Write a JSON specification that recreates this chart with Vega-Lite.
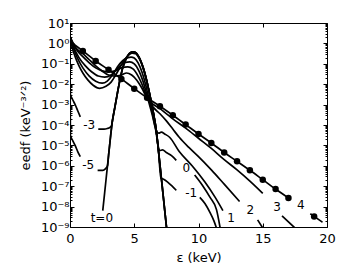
{
 "$schema": "https://vega.github.io/schema/vega-lite/v6.json",
 "width": 257, "height": 204,
 "autosize": "none",
 "padding": {"left": 70, "top": 23, "right": 23, "bottom": 53},
 "background": "white",
 "config": {"view": {"stroke": "black", "strokeWidth": 1}, "font": "DejaVu Sans"},
 "datasets": {
  "curves": [
   {"s":"g","x":2.55,"y":6.31e-9},{"s":"g","x":2.7,"y":5.01e-8},{"s":"g","x":2.85,"y":3.98e-7},{"s":"g","x":3.0,"y":3.16e-6},{"s":"g","x":3.15,"y":2.51e-5},{"s":"g","x":3.3,"y":1.585e-4},{"s":"g","x":3.5,"y":7.94e-4},{"s":"g","x":3.7,"y":3.98e-3},{"s":"g","x":3.9,"y":0.0178},{"s":"g","x":4.1,"y":0.0631},{"s":"g","x":4.3,"y":0.141},{"s":"g","x":4.5,"y":0.251},{"s":"g","x":4.7,"y":0.347},{"s":"g","x":4.9,"y":0.389},{"s":"g","x":5.1,"y":0.355},{"s":"g","x":5.3,"y":0.251},{"s":"g","x":5.5,"y":0.141},{"s":"g","x":5.7,"y":0.0631},{"s":"g","x":5.9,"y":0.0224},{"s":"g","x":6.1,"y":6.31e-3},{"s":"g","x":6.3,"y":1.585e-3},{"s":"g","x":6.5,"y":3.55e-4},{"s":"g","x":6.7,"y":6.31e-5},{"s":"g","x":6.9,"y":4.47e-6},{"s":"g","x":7.1,"y":2.82e-7},{"s":"g","x":7.3,"y":1.78e-8},{"s":"g","x":7.5,"y":1.12e-9},{"s":"g","x":7.6,"y":3.16e-10},

   {"s":"m5a","x":0,"y":2.51},{"s":"m5a","x":0.01,"y":0.01},{"s":"m5a","x":0.03,"y":3.16e-5},{"s":"m5a","x":0.2,"y":1.78e-5},{"s":"m5a","x":0.4,"y":1e-5},{"s":"m5a","x":0.6,"y":5.01e-6},{"s":"m5a","x":0.8,"y":2.82e-6},
   {"s":"m5b","x":2.15,"y":6.03e-7},{"s":"m5b","x":2.55,"y":6.03e-7},{"s":"m5b","x":2.75,"y":7.08e-7},{"s":"m5b","x":2.92,"y":1e-6},{"s":"m5b","x":3.0,"y":3.16e-6},{"s":"m5b","x":3.15,"y":2.51e-5},{"s":"m5b","x":3.3,"y":1.585e-4},{"s":"m5b","x":3.5,"y":7.94e-4},{"s":"m5b","x":3.7,"y":3.98e-3},{"s":"m5b","x":3.9,"y":0.0178},{"s":"m5b","x":4.1,"y":0.0631},{"s":"m5b","x":4.3,"y":0.141},{"s":"m5b","x":4.5,"y":0.251},{"s":"m5b","x":4.7,"y":0.347},{"s":"m5b","x":4.9,"y":0.389},{"s":"m5b","x":5.1,"y":0.355},{"s":"m5b","x":5.3,"y":0.251},{"s":"m5b","x":5.5,"y":0.141},{"s":"m5b","x":5.7,"y":0.0631},{"s":"m5b","x":5.9,"y":0.0224},{"s":"m5b","x":6.1,"y":6.31e-3},{"s":"m5b","x":6.3,"y":1.585e-3},{"s":"m5b","x":6.5,"y":3.55e-4},{"s":"m5b","x":6.7,"y":6.31e-5},{"s":"m5b","x":6.9,"y":4.47e-6},{"s":"m5b","x":7.1,"y":2.82e-7},{"s":"m5b","x":7.3,"y":1.78e-8},{"s":"m5b","x":7.5,"y":1.12e-9},{"s":"m5b","x":7.6,"y":3.16e-10},

   {"s":"m3a","x":0,"y":2.51},{"s":"m3a","x":0.01,"y":0.0316},{"s":"m3a","x":0.03,"y":3.16e-3},{"s":"m3a","x":0.2,"y":1.78e-3},{"s":"m3a","x":0.4,"y":1e-3},{"s":"m3a","x":0.6,"y":5.01e-4},{"s":"m3a","x":0.8,"y":2.51e-4},
   {"s":"m3b","x":2.2,"y":6.31e-5},{"s":"m3b","x":2.65,"y":6.31e-5},{"s":"m3b","x":2.9,"y":6.76e-5},{"s":"m3b","x":3.1,"y":7.59e-5},{"s":"m3b","x":3.22,"y":8.91e-5},{"s":"m3b","x":3.3,"y":1.585e-4},{"s":"m3b","x":3.5,"y":7.94e-4},{"s":"m3b","x":3.7,"y":3.98e-3},{"s":"m3b","x":3.9,"y":0.0178},{"s":"m3b","x":4.1,"y":0.0631},{"s":"m3b","x":4.3,"y":0.141},{"s":"m3b","x":4.5,"y":0.251},{"s":"m3b","x":4.7,"y":0.347},{"s":"m3b","x":4.9,"y":0.389},{"s":"m3b","x":5.1,"y":0.355},{"s":"m3b","x":5.3,"y":0.251},{"s":"m3b","x":5.5,"y":0.141},{"s":"m3b","x":5.7,"y":0.0631},{"s":"m3b","x":5.9,"y":0.0224},{"s":"m3b","x":6.1,"y":6.31e-3},{"s":"m3b","x":6.3,"y":1.585e-3},{"s":"m3b","x":6.5,"y":3.55e-4},{"s":"m3b","x":6.7,"y":6.31e-5},{"s":"m3b","x":6.9,"y":4.47e-6},{"s":"m3b","x":7.1,"y":2.82e-7},{"s":"m3b","x":7.3,"y":1.78e-8},{"s":"m3b","x":7.5,"y":1.12e-9},{"s":"m3b","x":7.6,"y":3.16e-10},

   {"s":"m1a","x":0,"y":2.24},{"s":"m1a","x":0.15,"y":0.708},{"s":"m1a","x":0.4,"y":0.224},{"s":"m1a","x":0.7,"y":0.0794},{"s":"m1a","x":1.0,"y":0.0355},{"s":"m1a","x":1.4,"y":0.0158},{"s":"m1a","x":1.8,"y":8.91e-3},{"s":"m1a","x":2.3,"y":6.31e-3},{"s":"m1a","x":2.8,"y":7.94e-3},{"s":"m1a","x":3.2,"y":0.0126},{"s":"m1a","x":3.6,"y":0.0316},{"s":"m1a","x":4.0,"y":0.0891},{"s":"m1a","x":4.3,"y":0.178},{"s":"m1a","x":4.6,"y":0.282},{"s":"m1a","x":4.85,"y":0.331},{"s":"m1a","x":5.1,"y":0.316},{"s":"m1a","x":5.35,"y":0.2},{"s":"m1a","x":5.6,"y":0.0891},{"s":"m1a","x":5.85,"y":0.0282},{"s":"m1a","x":6.1,"y":6.31e-3},{"s":"m1a","x":6.3,"y":1.585e-3},{"s":"m1a","x":6.5,"y":3.55e-4},{"s":"m1a","x":6.7,"y":6.31e-5},{"s":"m1a","x":6.9,"y":4.47e-6},{"s":"m1a","x":7.0,"y":6.31e-7},{"s":"m1a","x":7.08,"y":2.51e-7},{"s":"m1a","x":7.25,"y":2.24e-7},{"s":"m1a","x":7.6,"y":1.585e-7},{"s":"m1a","x":7.95,"y":1e-7},{"s":"m1a","x":8.27,"y":6.31e-8},
   {"s":"m1b","x":10.1,"y":2.82e-8},{"s":"m1b","x":10.5,"y":1.41e-8},{"s":"m1b","x":10.9,"y":5.01e-9},{"s":"m1b","x":11.2,"y":2.0e-9},{"s":"m1b","x":11.45,"y":7.08e-10},

   {"s":"p0a","x":0,"y":2.24},{"s":"p0a","x":0.25,"y":0.631},{"s":"p0a","x":0.6,"y":0.178},{"s":"p0a","x":1.0,"y":0.0631},{"s":"p0a","x":1.5,"y":0.0251},{"s":"p0a","x":2.0,"y":0.0141},{"s":"p0a","x":2.5,"y":0.0112},{"s":"p0a","x":2.9,"y":0.0141},{"s":"p0a","x":3.3,"y":0.0282},{"s":"p0a","x":3.7,"y":0.0708},{"s":"p0a","x":4.1,"y":0.141},{"s":"p0a","x":4.5,"y":0.2},{"s":"p0a","x":4.75,"y":0.214},{"s":"p0a","x":5.0,"y":0.191},{"s":"p0a","x":5.3,"y":0.112},{"s":"p0a","x":5.6,"y":0.0398},{"s":"p0a","x":5.9,"y":8.91e-3},{"s":"p0a","x":6.1,"y":2.51e-3},{"s":"p0a","x":6.3,"y":7.94e-4},{"s":"p0a","x":6.5,"y":2.0e-4},{"s":"p0a","x":6.7,"y":4.47e-5},{"s":"p0a","x":6.85,"y":1e-5},{"s":"p0a","x":6.98,"y":5.62e-6},{"s":"p0a","x":7.2,"y":6.03e-6},{"s":"p0a","x":7.5,"y":4.47e-6},{"s":"p0a","x":7.9,"y":3.16e-6},{"s":"p0a","x":8.27,"y":1.86e-6},
   {"s":"p0b","x":9.7,"y":3.55e-7},{"s":"p0b","x":10.3,"y":1.12e-7},{"s":"p0b","x":10.9,"y":2.82e-8},{"s":"p0b","x":11.4,"y":7.08e-9},{"s":"p0b","x":11.7,"y":7.94e-10},

   {"s":"p1a","x":0,"y":2.24},{"s":"p1a","x":0.3,"y":0.631},{"s":"p1a","x":0.7,"y":0.2},{"s":"p1a","x":1.2,"y":0.0794},{"s":"p1a","x":1.7,"y":0.0398},{"s":"p1a","x":2.2,"y":0.0251},{"s":"p1a","x":2.7,"y":0.0224},{"s":"p1a","x":3.2,"y":0.0282},{"s":"p1a","x":3.6,"y":0.0501},{"s":"p1a","x":4.0,"y":0.0891},{"s":"p1a","x":4.3,"y":0.117},{"s":"p1a","x":4.65,"y":0.123},{"s":"p1a","x":5.0,"y":0.1},{"s":"p1a","x":5.4,"y":0.0398},{"s":"p1a","x":5.8,"y":7.94e-3},{"s":"p1a","x":6.1,"y":1.585e-3},{"s":"p1a","x":6.4,"y":3.16e-4},{"s":"p1a","x":6.7,"y":5.62e-5},{"s":"p1a","x":6.9,"y":3.98e-5},{"s":"p1a","x":7.1,"y":4.47e-5},{"s":"p1a","x":7.4,"y":3.55e-5},{"s":"p1a","x":7.75,"y":2.51e-5},{"s":"p1a","x":8.5,"y":5.01e-6},{"s":"p1a","x":9.5,"y":1e-6},{"s":"p1a","x":10.5,"y":1.585e-7},{"s":"p1a","x":11.3,"y":2.82e-8},{"s":"p1a","x":11.9,"y":6.31e-9},

   {"s":"p2a","x":0,"y":2.24},{"s":"p2a","x":0.4,"y":0.631},{"s":"p2a","x":1.0,"y":0.224},{"s":"p2a","x":1.5,"y":0.112},{"s":"p2a","x":2.0,"y":0.0631},{"s":"p2a","x":2.5,"y":0.0447},{"s":"p2a","x":3.0,"y":0.0398},{"s":"p2a","x":3.5,"y":0.0447},{"s":"p2a","x":4.0,"y":0.0631},{"s":"p2a","x":4.5,"y":0.0708},{"s":"p2a","x":4.9,"y":0.0562},{"s":"p2a","x":5.3,"y":0.0251},{"s":"p2a","x":5.7,"y":7.08e-3},{"s":"p2a","x":6.05,"y":1.78e-3},{"s":"p2a","x":6.5,"y":7.08e-4},{"s":"p2a","x":7.0,"y":3.55e-4},{"s":"p2a","x":7.5,"y":1.585e-4},{"s":"p2a","x":8.0,"y":6.31e-5},{"s":"p2a","x":8.5,"y":2.51e-5},{"s":"p2a","x":9.25,"y":7.94e-6},{"s":"p2a","x":10.0,"y":2.82e-6},{"s":"p2a","x":11.0,"y":6.31e-7},{"s":"p2a","x":12.0,"y":1.26e-7},{"s":"p2a","x":13.2,"y":1.78e-8},
   {"s":"p2b","x":14.6,"y":2.24e-9},{"s":"p2b","x":15.0,"y":8.91e-10},

   {"s":"p3a","x":0,"y":2.0},{"s":"p3a","x":0.5,"y":0.562},{"s":"p3a","x":1.0,"y":0.316},{"s":"p3a","x":1.5,"y":0.158},{"s":"p3a","x":2.0,"y":0.0794},{"s":"p3a","x":2.5,"y":0.0447},{"s":"p3a","x":3.0,"y":0.0282},{"s":"p3a","x":3.5,"y":0.0251},{"s":"p3a","x":4.0,"y":0.0282},{"s":"p3a","x":4.4,"y":0.0355},{"s":"p3a","x":4.8,"y":0.0282},{"s":"p3a","x":5.2,"y":0.0158},{"s":"p3a","x":5.6,"y":6.31e-3},{"s":"p3a","x":6.0,"y":2.0e-3},{"s":"p3a","x":7.0,"y":6.31e-4},{"s":"p3a","x":8.0,"y":2.0e-4},{"s":"p3a","x":9.0,"y":7.08e-5},{"s":"p3a","x":10.0,"y":2.24e-5},{"s":"p3a","x":11.0,"y":7.08e-6},{"s":"p3a","x":12.0,"y":2.0e-6},{"s":"p3a","x":13.0,"y":6.31e-7},{"s":"p3a","x":14.0,"y":1.78e-7},{"s":"p3a","x":15.0,"y":4.47e-8},
   {"s":"p3b","x":16.5,"y":3.55e-9},{"s":"p3b","x":17.0,"y":1.78e-9},{"s":"p3b","x":17.6,"y":7.94e-10},

   {"s":"p4a","x":0,"y":1.26},{"s":"p4a","x":1,"y":0.427},{"s":"p4a","x":2,"y":0.138},{"s":"p4a","x":3,"y":0.0513},{"s":"p4a","x":4,"y":0.0182},{"s":"p4a","x":5,"y":6.03e-3},{"s":"p4a","x":6,"y":2.14e-3},{"s":"p4a","x":7,"y":8.32e-4},{"s":"p4a","x":8,"y":3.02e-4},{"s":"p4a","x":9,"y":1.05e-4},{"s":"p4a","x":10,"y":3.63e-5},{"s":"p4a","x":11,"y":1.32e-5},{"s":"p4a","x":12,"y":4.47e-6},{"s":"p4a","x":13,"y":1.66e-6},{"s":"p4a","x":14,"y":6.03e-7},{"s":"p4a","x":15,"y":2.09e-7},{"s":"p4a","x":16,"y":7.24e-8},{"s":"p4a","x":17,"y":2.63e-8},
   {"s":"p4b","x":18.7,"y":4.47e-9},{"s":"p4b","x":19,"y":3.31e-9},{"s":"p4b","x":19.65,"y":1.7e-9}
  ],
  "dots": [
   {"x":1,"y":0.427},{"x":2,"y":0.138},{"x":3,"y":0.0513},{"x":4,"y":0.0182},{"x":5,"y":6.03e-3},{"x":6,"y":2.14e-3},{"x":7,"y":8.32e-4},{"x":8,"y":3.02e-4},{"x":9,"y":1.05e-4},{"x":10,"y":3.63e-5},{"x":11,"y":1.32e-5},{"x":12,"y":4.47e-6},{"x":13,"y":1.66e-6},{"x":14,"y":6.03e-7},{"x":15,"y":2.09e-7},{"x":16,"y":7.24e-8},{"x":17,"y":2.63e-8},{"x":19,"y":3.31e-9}
  ],
  "labels": [
   {"label":"t=0","x":2.48,"y":2.88e-9},
   {"label":"-5","x":1.42,"y":1.05e-6},
   {"label":"-3","x":1.5,"y":9.8e-5},
   {"label":"0","x":9.05,"y":7.6e-7},
   {"label":"-1","x":9.43,"y":4.47e-8},
   {"label":"1","x":12.53,"y":2.69e-9},
   {"label":"2","x":14.03,"y":6.61e-9},
   {"label":"3","x":16.12,"y":9.33e-9},
   {"label":"4","x":17.96,"y":1.15e-8}
  ]
 },
 "layer": [
  {
   "data": {"name": "curves"},
   "mark": {"type": "line", "color": "black", "strokeWidth": 1.7, "clip": true, "interpolate": "monotone"},
   "encoding": {
    "x": {"field": "x", "type": "quantitative", "scale": {"domain": [0, 20], "nice": false, "zero": false},
     "axis": {"orient": "bottom", "values": [0, 5, 10, 15, 20], "domain": false, "grid": false, "tickSize": -4, "tickColor": "black", "labelFontSize": 13, "labelColor": "black", "labelPadding": 9, "labelFlush": false, "labelFont": "DejaVu Sans", "title": "ε (keV)", "titleFont": "DejaVu Sans", "titleFontSize": 13, "titleFontWeight": "normal", "titleColor": "black", "titlePadding": 6}},
    "y": {"field": "y", "type": "quantitative", "scale": {"type": "log", "domain": [1e-9, 10], "nice": false},
     "axis": {"orient": "left", "values": [1e-9,2e-9,3e-9,4e-9,5e-9,6e-9,7e-9,8e-9,9e-9,1e-8,2e-8,3e-8,4e-8,5e-8,6e-8,7e-8,8e-8,9e-8,1e-7,2e-7,3e-7,4e-7,5e-7,6e-7,7e-7,8e-7,9e-7,1e-6,2e-6,3e-6,4e-6,5e-6,6e-6,7e-6,8e-6,9e-6,1e-5,2e-5,3e-5,4e-5,5e-5,6e-5,7e-5,8e-5,9e-5,1e-4,2e-4,3e-4,4e-4,5e-4,6e-4,7e-4,8e-4,9e-4,1e-3,2e-3,3e-3,4e-3,5e-3,6e-3,7e-3,8e-3,9e-3,0.01,0.02,0.03,0.04,0.05,0.06,0.07,0.08,0.09,0.1,0.2,0.3,0.4,0.5,0.6,0.7,0.8,0.9,1,2,3,4,5,6,7,8,9,10],
      "labelExpr": "abs(log(datum.value)/LN10 - round(log(datum.value)/LN10)) < 0.01 ? ['10⁻⁹','10⁻⁸','10⁻⁷','10⁻⁶','10⁻⁵','10⁻⁴','10⁻³','10⁻²','10⁻¹','10⁰','10¹'][round(log(datum.value)/LN10)+9] : ''",
      "tickSize": {"condition": {"test": "abs(log(datum.value)/LN10 - round(log(datum.value)/LN10)) < 0.01", "value": -4}, "value": -2},
      "domain": false, "grid": false, "tickColor": "black", "labelFontSize": 13, "labelColor": "black", "labelPadding": 5, "labelOverlap": false, "labelFlush": false, "labelFont": "DejaVu Sans",
      "title": "eedf (keV⁻³ᐟ²)", "titleFont": "DejaVu Sans", "titleFontSize": 13, "titleFontWeight": "normal", "titleColor": "black", "titleX": -45, "titleY": 102, "titleAngle": -90, "titleAlign": "center", "titleBaseline": "middle"}},
    "detail": {"field": "s"}
   }
  },
  {
   "data": {"name": "dots"},
   "mark": {"type": "point", "filled": true, "color": "black", "size": 42, "opacity": 1, "clip": true},
   "encoding": {
    "x": {"field": "x", "type": "quantitative",
     "axis": {"orient": "top", "values": [0, 5, 10, 15, 20], "domain": false, "grid": false, "tickSize": -4, "tickColor": "black", "labels": false, "title": null}},
    "y": {"field": "y", "type": "quantitative",
     "axis": {"orient": "right", "values": [1e-9,2e-9,3e-9,4e-9,5e-9,6e-9,7e-9,8e-9,9e-9,1e-8,2e-8,3e-8,4e-8,5e-8,6e-8,7e-8,8e-8,9e-8,1e-7,2e-7,3e-7,4e-7,5e-7,6e-7,7e-7,8e-7,9e-7,1e-6,2e-6,3e-6,4e-6,5e-6,6e-6,7e-6,8e-6,9e-6,1e-5,2e-5,3e-5,4e-5,5e-5,6e-5,7e-5,8e-5,9e-5,1e-4,2e-4,3e-4,4e-4,5e-4,6e-4,7e-4,8e-4,9e-4,1e-3,2e-3,3e-3,4e-3,5e-3,6e-3,7e-3,8e-3,9e-3,0.01,0.02,0.03,0.04,0.05,0.06,0.07,0.08,0.09,0.1,0.2,0.3,0.4,0.5,0.6,0.7,0.8,0.9,1,2,3,4,5,6,7,8,9,10],
      "tickSize": {"condition": {"test": "abs(log(datum.value)/LN10 - round(log(datum.value)/LN10)) < 0.01", "value": -4}, "value": -2},
      "domain": false, "grid": false, "tickColor": "black", "labels": false, "title": null}}
   }
  },
  {
   "data": {"name": "labels"},
   "mark": {"type": "text", "fontSize": 12, "font": "DejaVu Sans", "color": "black", "align": "center", "baseline": "middle"},
   "encoding": {
    "x": {"field": "x", "type": "quantitative", "axis": null},
    "y": {"field": "y", "type": "quantitative", "axis": null},
    "text": {"field": "label"}
   }
  }
 ],
 "resolve": {"axis": {"x": "independent", "y": "independent"}}
}
